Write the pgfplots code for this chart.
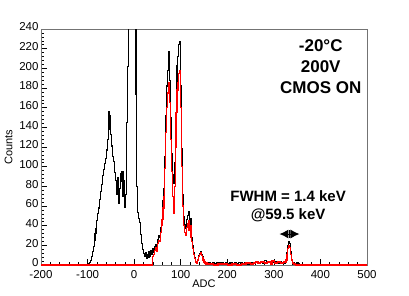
\documentclass[border=0pt]{standalone}
\usepackage{fontspec}
\setmainfont{Liberation Sans}
\usepackage{pgfplots}
\pgfplotsset{compat=1.18}
\usetikzlibrary{arrows.meta}
\begin{document}
\begin{tikzpicture}
\useasboundingbox (-41pt,-30pt) rectangle (368pt,265pt);
\begin{axis}[
  at={(0,0)}, anchor=south west,
  scale only axis, width=326pt, height=236pt,
  xmin=-200, xmax=500, ymin=0, ymax=240,
  xtick={-200,-100,...,500}, ytick={0,20,...,240},
  minor x tick num=4, minor y tick num=4,
  tick align=inside, xtick pos=bottom, ytick pos=left,
  major tick length=6pt, minor tick length=3pt,
  tick style={black, line width=0.5pt},
  axis line style={black!55, line width=0.6pt},
  /pgf/number format/assume math mode=true,
  ticklabel style={font=\fontsize{11.5}{13}\selectfont},
  yticklabel style={xshift=1pt, yshift=2pt},
  xticklabel style={yshift=-1.5pt},
  xlabel={ADC}, ylabel={Counts},
  label style={font=\fontsize{11}{13}\selectfont},
  xlabel style={yshift=5pt},
  ylabel style={yshift=0pt},
  clip=true,
]
\addplot[const plot mark left, black, line width=1.1pt] coordinates {
(-200,0)(-100,0)(-98,1)(-96,3)(-94,5)(-92,9)(-90,14)(-88,19)(-86,25)(-84,32)(-82,37)(-80,45)(-78,52)(-76,58)(-74,67)(-72,75)(-70,82)(-68,91)(-66,97)(-64,103)(-62,108)(-60,117)(-58,128)(-56,156)(-54,138)(-52,152)(-50,133)(-48,121)(-46,110)(-44,105)(-42,94)(-40,86)(-38,72)(-36,89)(-34,63)(-32,78)(-30,93)(-28,85)(-26,95)(-24,70)(-22,86)(-20,59)(-18,72)(-16,145)(-14,202)(-12,1000)(4,173)(6,80)(8,53)(10,47)(12,43)(14,31)(16,22)(18,16)(20,12)(22,9)(24,13)(26,7)(28,11)(30,8)(32,14)(34,9)(36,15)(38,11)(40,17)(42,13)(44,19)(46,21)(48,17)(50,26)(52,30)(54,28)(56,38)(58,45)(60,52)(62,66)(64,78)(66,110)(68,152)(70,182)(72,198)(74,217)(76,188)(78,150)(80,113)(82,92)(84,83)(86,104)(88,140)(90,178)(92,203)(94,212)(96,224)(98,227)(100,182)(102,118)(104,72)(106,49)(108,41)(110,37)(112,46)(114,50)(116,54)(118,43)(120,47)(122,33)(124,28)(126,20)(128,13)(130,8)(132,4)(134,3)(136,6)(138,10)(140,12)(142,14)(144,11)(146,9)(148,6)(150,4)(152,3)(154,2)(156,3)(158,1)(160,2)(164,1)(168,3)(172,1)(176,2)(180,1)(184,2)(188,3)(192,1)(196,2)(200,1)(204,2)(208,3)(212,1)(216,2)(220,1)(224,3)(228,2)(232,1)(236,2)(240,3)(244,1)(248,2)(252,3)(256,2)(260,4)(264,2)(268,3)(272,4)(276,2)(280,5)(284,3)(288,4)(292,2)(296,5)(300,3)(304,4)(308,2)(312,4)(316,3)(320,2)(324,3)(326,6)(328,13)(330,20)(332,24)(334,22)(336,14)(338,6)(340,3)(342,2)(344,1)(348,2)(352,1)(356,0)(500,0)
};
\addplot[const plot mark left, red, line width=1.2pt] coordinates {
(-200,0)(40,9)(42,11)(44,15)(46,18)(48,14)(50,22)(52,25)(54,24)(56,33)(58,40)(60,46)(62,58)(64,70)(66,98)(68,135)(70,160)(72,175)(74,186)(76,165)(78,128)(80,95)(82,70)(84,52)(86,80)(88,120)(90,155)(92,178)(94,185)(96,195)(98,198)(100,160)(102,100)(104,60)(106,40)(108,33)(110,30)(112,38)(114,42)(116,45)(118,35)(120,40)(122,28)(124,24)(126,17)(128,11)(130,7)(132,3)(134,2)(136,5)(138,9)(140,11)(142,13)(144,10)(146,8)(148,5)(150,3)(152,2)(154,1)(156,2)(158,1)(160,1)(170,0)(180,1)(190,1)(200,0)(210,1)(220,0)(230,1)(240,2)(250,1)(256,2)(260,3)(266,2)(272,3)(280,2)(286,3)(292,1)(296,4)(302,2)(308,3)(314,2)(320,3)(326,5)(328,11)(330,17)(332,20)(334,18)(336,11)(338,5)(340,2)(342,1)(346,0)(500,0)
};
\draw[{Latex[length=9pt,width=9pt]}-{Latex[length=9pt,width=9pt]}, line width=1pt] (axis cs:312,31.5) -- (axis cs:355,31.5);
\draw[line width=1.2pt] (axis cs:333.5,27.5) -- (axis cs:333.5,35.5);
\node[align=center, font=\bfseries\fontsize{17}{21}\selectfont] at (rel axis cs:0.858,0.84) {-20°C\\200V\\CMOS ON};
\node[align=center, font=\bfseries\fontsize{15}{18}\selectfont] at (rel axis cs:0.758,0.25) {FWHM = 1.4 keV\\@59.5 keV};
\end{axis}
\end{tikzpicture}
\end{document}
